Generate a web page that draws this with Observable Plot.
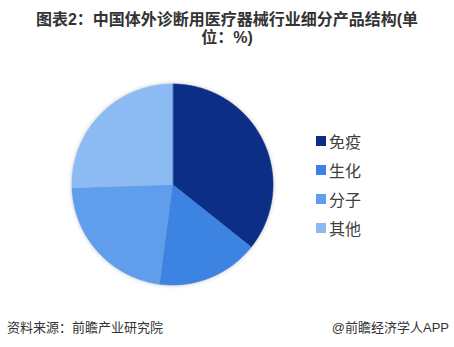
<!DOCTYPE html>
<html lang="zh-CN">
<head>
<meta charset="utf-8">
<script src="https://cdn.jsdelivr.net/npm/d3@7"></script>
<script src="https://cdn.jsdelivr.net/npm/@observablehq/plot@0.6"></script>
<style>
  html, body { margin: 0; padding: 0; background: #fff; }
  #wrap { position: relative; width: 454px; height: 347px; overflow: hidden; font-family: "Liberation Sans", "Noto Sans CJK SC", sans-serif; }
  #title { position: absolute; top: 11px; left: 0; width: 454px; text-align: center; font-size: 16px; font-weight: bold; line-height: 18px; color: #333; }
  #chart { position: absolute; top: 50px; left: 0; }
  #chart svg g[aria-label="line"] { filter: drop-shadow(0 0 2px rgba(0,0,0,0.22)); }
  #legend { position: absolute; left: 316px; top: 126px; }
  #legend .lg-swatches-wrap { display: flex !important; flex-direction: column !important; align-items: flex-start !important; min-height: 0 !important; margin: 0 !important; }
  #legend .lg-swatch { display: flex !important; align-items: center; height: 29px; margin: 0 !important; font-size: 16px; color: #404040; font-family: "Liberation Sans", "Noto Sans CJK SC", sans-serif; }
  #legend .lg-swatch svg { margin-right: 3px !important; }
  .foot { position: absolute; top: 317px; font-size: 13px; color: #333; }
</style>
</head>
<body>
<div id="wrap">
  <div id="title">图表2：中国体外诊断用医疗器械行业细分产品结构(单<br>位：%)</div>
  <div id="chart"></div>
  <div id="legend"></div>
  <div class="foot" style="left:7px;">资料来源：前瞻产业研究院</div>
  <div class="foot" style="right:5px;">@前瞻经济学人APP</div>
</div>
<script>
const categories = ["免疫", "生化", "分子", "其他"];
const shares = [35.7, 16.4, 22.4, 25.5];
const colors = ["#0c2e87", "#3c83e2", "#609deb", "#8cbaf2"];

const total = d3.sum(shares);
const rows = [];
let acc = 0;
categories.forEach((cat, i) => {
  const a0 = acc / total * 2 * Math.PI;
  acc += shares[i];
  const a1 = acc / total * 2 * Math.PI;
  rows.push({cat, x: 0, y: 0});
  const n = Math.max(2, Math.ceil((a1 - a0) / (Math.PI / 360)));
  for (let k = 0; k <= n; k++) {
    const a = a0 + (a1 - a0) * k / n;
    rows.push({cat, x: Math.sin(a), y: Math.cos(a)});
  }
});

const colorScale = {domain: categories, range: colors};

const chart = Plot.plot({
  width: 454,
  height: 262,
  marginLeft: 71.5,
  marginRight: 181.5,
  marginTop: 33.5,
  marginBottom: 27.5,
  x: {domain: [-1, 1], axis: null},
  y: {domain: [-1, 1], axis: null},
  color: colorScale,
  marks: [
    Plot.line(rows, {x: "x", y: "y", z: "cat", fill: "cat", stroke: "cat", strokeWidth: 0.6, curve: "linear-closed"})
  ]
});
document.getElementById("chart").appendChild(chart);

const legend = Plot.legend({color: colorScale, legend: "swatches", swatchSize: 10, className: "lg"});
document.getElementById("legend").appendChild(legend);
</script>
</body>
</html>
